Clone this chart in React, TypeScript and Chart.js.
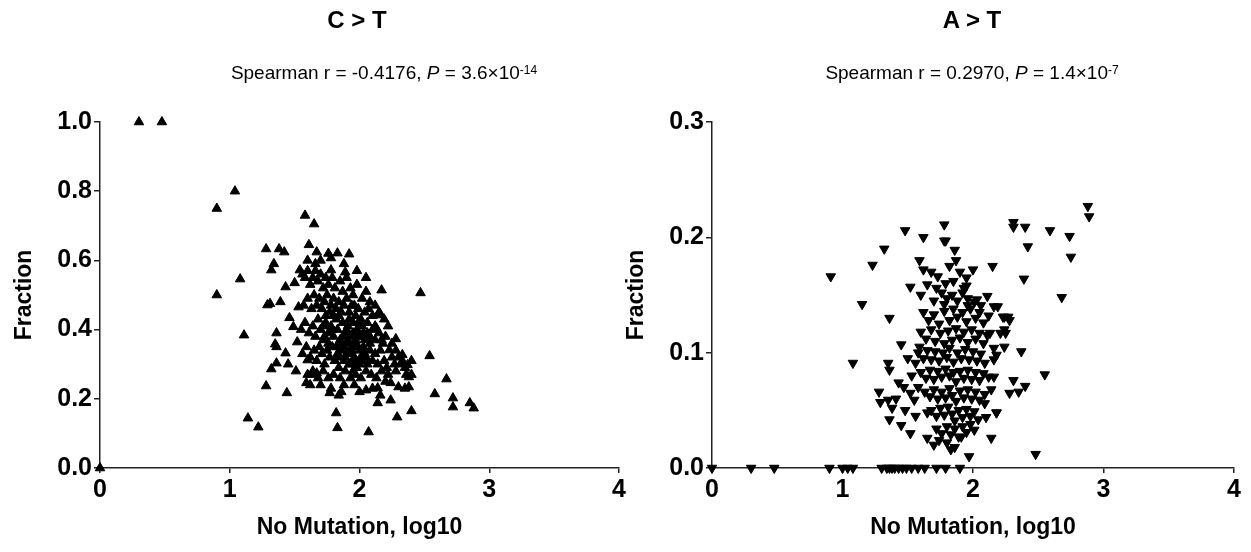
import React, { useEffect, useRef } from "react";
import { Chart, registerables } from "chart.js";
Chart.register(...registerables);

// ---- C > T panel ----
const ctX = [
  0, 0.30, 0.477, 0.90, 1.04, 0.90, 1.08, 1.11, 1.14, 1.22,
  1.58, 1.65, 1.28, 1.38, 1.42, 1.61, 1.67, 1.34, 1.32, 1.54,
  1.50, 1.43, 1.29, 1.31, 1.39, 1.53, 1.46, 1.49, 1.36, 1.35,
  1.36, 1.43, 1.52, 1.36, 1.32, 1.45, 1.51, 1.60, 1.59, 1.28,
  1.44, 1.63, 1.67, 1.83, 1.92, 1.78, 1.89, 1.78, 2.17, 2.47,
  2.14, 2.16, 2.28, 2.54, 2.67, 2.58, 2.72, 2.72, 2.85, 2.88,
  2.40, 2.29, 2.07, 1.83, 1.82, 2.14, 2.24, 2.38, 2.38, 2.37,
  2.33, 2.30, 2.24, 2.14, 2.05, 1.96, 1.86, 1.77, 2.23, 2.17,
  2.13,
  1.56, 1.58, 1.60, 1.62, 1.64, 1.66, 1.68, 1.70, 1.72, 1.74, 1.76, 1.79, 1.81, 1.85, 1.87, 1.90, 1.93, 1.95, 1.98, 2.02, 2.05, 2.08,
  1.57, 1.60, 1.63, 1.65, 1.67, 1.69, 1.71, 1.73, 1.75, 1.77, 1.78, 1.80, 1.82, 1.84, 1.86, 1.88, 1.90, 1.92, 1.94, 1.97, 1.99, 2.01, 2.04, 2.06, 2.10, 2.12,
  1.55, 1.58, 1.61, 1.64, 1.66, 1.68, 1.70, 1.72, 1.74, 1.76, 1.78, 1.80, 1.82, 1.83, 1.85, 1.87, 1.89, 1.91, 1.93, 1.95, 1.96, 1.98, 2.00, 2.02, 2.04, 2.06, 2.08, 2.10, 2.12, 2.15, 2.18, 2.20,
  1.56, 1.59, 1.62, 1.65, 1.67, 1.69, 1.71, 1.73, 1.75, 1.77, 1.79, 1.81, 1.83, 1.84, 1.86, 1.88, 1.90, 1.92, 1.94, 1.96, 1.98, 2.00, 2.02, 2.04, 2.06, 2.08, 2.10, 2.12, 2.14, 2.16, 2.19, 2.21, 2.25, 2.27,
  1.60, 1.64, 1.68, 1.72, 1.76, 1.80, 1.85, 1.89, 1.93, 1.97, 2.01, 2.05, 2.09, 2.13, 2.17, 2.22, 2.28, 2.32, 2.35,
  1.62, 1.70, 1.78, 1.88, 2.00, 2.10, 2.20, 1.84, 2.16,
  1.86, 1.88, 1.91, 1.94, 1.97, 1.99, 2.03, 1.80, 1.84, 1.92, 1.96, 1.74, 2.07, 2.00, 1.95, 1.90, 1.82, 1.76, 1.72, 1.99,
  1.60, 1.70, 1.76, 1.66, 1.98, 2.05, 1.88, 2.12, 2.15, 2.19, 2.22, 2.25, 2.28, 2.30, 2.33, 2.36, 2.40, 2.35, 2.40,
  1.89, 1.93, 1.97, 2.01, 2.05, 1.87, 1.91, 1.95, 1.99, 2.03, 1.85, 1.94, 2.08, 1.79, 1.73,
];
const ctY = [
  0, 1.0, 1.0, 0.75, 0.80, 0.50, 0.546, 0.384, 0.144, 0.118,
  0.73, 0.705, 0.633, 0.633, 0.624, 0.645, 0.624, 0.59, 0.572, 0.572,
  0.535, 0.523, 0.471, 0.475, 0.48, 0.465, 0.434, 0.408, 0.39, 0.358,
  0.35, 0.332, 0.364, 0.303, 0.286, 0.30, 0.28, 0.312, 0.246, 0.237,
  0.217, 0.27, 0.274, 0.621, 0.618, 0.607, 0.566, 0.572, 0.514, 0.506,
  0.442, 0.445, 0.373, 0.324, 0.257, 0.214, 0.202, 0.176, 0.188, 0.173,
  0.165, 0.147, 0.104, 0.116, 0.159, 0.188, 0.196, 0.234, 0.263, 0.298,
  0.327, 0.234, 0.246, 0.231, 0.225, 0.24, 0.22, 0.217, 0.341, 0.37,
  0.404,
  0.56, 0.55, 0.57, 0.53, 0.55, 0.57, 0.54, 0.56, 0.52, 0.55, 0.53, 0.55, 0.52, 0.54, 0.51, 0.55, 0.52, 0.50, 0.53, 0.49, 0.51, 0.48,
  0.47, 0.49, 0.46, 0.50, 0.47, 0.49, 0.46, 0.48, 0.50, 0.45, 0.47, 0.49, 0.46, 0.48, 0.45, 0.47, 0.49, 0.45, 0.47, 0.44, 0.46, 0.43, 0.45, 0.42, 0.44, 0.41,
  0.40, 0.42, 0.39, 0.41, 0.38, 0.43, 0.40, 0.37, 0.42, 0.39, 0.41, 0.38, 0.43, 0.40, 0.37, 0.42, 0.39, 0.41, 0.38, 0.42, 0.36, 0.40, 0.38, 0.41, 0.37, 0.39, 0.36, 0.40, 0.37, 0.39, 0.36, 0.38,
  0.33, 0.35, 0.32, 0.34, 0.31, 0.35, 0.33, 0.30, 0.34, 0.32, 0.35, 0.31, 0.33, 0.29, 0.34, 0.31, 0.33, 0.30, 0.35, 0.32, 0.29, 0.34, 0.31, 0.33, 0.30, 0.34, 0.31, 0.33, 0.30, 0.34, 0.31, 0.29, 0.32, 0.30,
  0.27, 0.28, 0.26, 0.28, 0.26, 0.27, 0.26, 0.28, 0.26, 0.27, 0.26, 0.28, 0.27, 0.26, 0.28, 0.27, 0.28, 0.30, 0.29,
  0.24, 0.24, 0.23, 0.24, 0.22, 0.23, 0.25, 0.21, 0.21,
  0.36, 0.35, 0.36, 0.34, 0.37, 0.35, 0.35, 0.44, 0.44, 0.43, 0.47, 0.44, 0.46, 0.30, 0.28, 0.40, 0.35, 0.36, 0.41, 0.42,
  0.60, 0.60, 0.62, 0.59, 0.57, 0.55, 0.59, 0.47, 0.45, 0.43, 0.41, 0.36, 0.34, 0.32, 0.31, 0.27, 0.27, 0.23, 0.31,
  0.32, 0.33, 0.31, 0.32, 0.32, 0.38, 0.37, 0.39, 0.38, 0.39, 0.32, 0.30, 0.38, 0.40, 0.38,
];

// ---- A > T panel ----
const atX = [
  0, 0.30, 0.477, 0.90, 1.0, 1.04, 1.08, 1.30, 1.34, 1.36, 1.38, 1.40, 1.43, 1.46, 1.49, 1.53, 1.58, 1.63, 1.72, 1.79, 1.90,
  0.91, 1.23, 1.32, 1.48, 1.62, 1.78, 1.78, 1.15, 1.36, 1.59, 1.62, 1.68, 1.73, 1.65, 1.52, 1.60, 1.72, 1.79, 1.78,
  1.08, 1.35, 1.36, 1.45, 1.59, 1.28, 1.29, 1.35, 1.38, 1.43, 1.36, 1.45, 1.52, 1.65, 1.70, 1.56, 1.55, 1.65,
  2.88, 2.89, 2.31, 2.31, 2.40, 2.59, 2.74, 2.42, 2.75, 2.39, 2.68, 2.15, 2.00, 1.79, 1.86, 1.87,
  2.37, 2.55, 2.31, 2.40, 2.28, 2.35, 2.18, 2.14, 2.48, 1.97, 2.24, 2.28, 2.24, 2.24, 2.18, 2.11, 2.19,
  1.95, 1.93, 1.96, 2.01, 2.06, 2.16, 2.23, 2.27, 2.25, 2.21, 2.16, 2.13, 2.16, 2.16, 2.14, 2.09, 2.18, 2.10, 2.01, 1.91, 1.83,
  1.62, 1.66, 1.70, 1.74, 1.78, 1.82, 1.85, 1.88, 1.92, 1.95, 1.98, 2.02, 2.05, 2.08, 2.12,
  1.60, 1.64, 1.68, 1.71, 1.75, 1.78, 1.81, 1.84, 1.87, 1.90, 1.93, 1.96, 1.99, 2.02, 2.05, 2.08, 2.11,
  1.58, 1.62, 1.65, 1.68, 1.71, 1.74, 1.77, 1.80, 1.82, 1.85, 1.88, 1.91, 1.94, 1.97, 2.00, 2.03, 2.06, 2.09,
  1.60, 1.64, 1.67, 1.70, 1.73, 1.76, 1.79, 1.82, 1.85, 1.87, 1.90, 1.93, 1.96, 1.99, 2.02, 2.05, 2.08, 2.12,
  1.63, 1.67, 1.70, 1.73, 1.76, 1.79, 1.82, 1.84, 1.87, 1.90, 1.93, 1.96, 1.99, 2.02, 2.05, 2.09,
  1.68, 1.72, 1.75, 1.78, 1.81, 1.84, 1.86, 1.89, 1.92, 1.95, 1.98, 2.01, 2.04,
  1.72, 1.76, 1.80, 1.83, 1.86, 1.89, 1.92, 1.95, 1.98, 1.80, 1.86, 1.74,
  1.84, 1.88, 1.92, 1.96, 1.80, 1.76, 1.70, 2.03, 1.85, 1.90, 1.82, 1.95,
  1.50, 1.53, 1.47, 1.58, 1.52, 1.48, 1.56, 1.41,
];
const atY = [
  0, 0, 0, 0, 0, 0, 0, 0, 0, 0, 0, 0, 0, 0, 0, 0, 0, 0, 0, 0, 0,
  0.166, 0.176, 0.19, 0.206, 0.20, 0.211, 0.197, 0.142, 0.13, 0.18, 0.172, 0.17, 0.166, 0.159, 0.157, 0.15, 0.156, 0.16, 0.142,
  0.091, 0.091, 0.085, 0.107, 0.105, 0.066, 0.057, 0.059, 0.052, 0.074, 0.042, 0.037, 0.03, 0.026, 0.02, 0.091, 0.059, 0.048,
  0.227, 0.218, 0.213, 0.209, 0.209, 0.206, 0.201, 0.192, 0.183, 0.164, 0.148, 0.175, 0.172, 0.197, 0.189, 0.18,
  0.101, 0.081, 0.076, 0.071, 0.065, 0.066, 0.048, 0.026, 0.012, 0.01, 0.131, 0.128, 0.12, 0.105, 0.098, 0.149, 0.14,
  0.165, 0.156, 0.147, 0.144, 0.141, 0.14, 0.131, 0.131, 0.117, 0.117, 0.104, 0.117, 0.094, 0.079, 0.068, 0.056, 0.048, 0.044, 0.033, 0.027, 0.016,
  0.135, 0.128, 0.133, 0.125, 0.136, 0.128, 0.138, 0.131, 0.135, 0.127, 0.138, 0.130, 0.135, 0.126, 0.132,
  0.118, 0.112, 0.120, 0.110, 0.117, 0.108, 0.119, 0.111, 0.121, 0.113, 0.118, 0.109, 0.120, 0.112, 0.117, 0.108, 0.115,
  0.100, 0.095, 0.102, 0.094, 0.101, 0.093, 0.100, 0.096, 0.104, 0.092, 0.100, 0.095, 0.103, 0.094, 0.101, 0.093, 0.099, 0.091,
  0.083, 0.078, 0.085, 0.077, 0.084, 0.079, 0.086, 0.080, 0.083, 0.075, 0.084, 0.078, 0.085, 0.077, 0.083, 0.076, 0.082, 0.079,
  0.066, 0.062, 0.068, 0.060, 0.066, 0.061, 0.069, 0.063, 0.058, 0.067, 0.061, 0.068, 0.060, 0.066, 0.059, 0.064,
  0.050, 0.045, 0.052, 0.046, 0.053, 0.047, 0.041, 0.050, 0.044, 0.051, 0.045, 0.049, 0.042,
  0.034, 0.030, 0.036, 0.029, 0.034, 0.027, 0.036, 0.031, 0.038, 0.022, 0.018, 0.024,
  0.150, 0.145, 0.152, 0.141, 0.147, 0.152, 0.145, 0.146, 0.162, 0.170, 0.175, 0.158,
  0.095, 0.080, 0.070, 0.070, 0.065, 0.050, 0.045, 0.060,
];

const xTicks = [0, 1, 2, 3, 4];
const ctYTicks = [0, 0.2, 0.4, 0.6, 0.8, 1.0];
const atYTicks = [0, 0.1, 0.2, 0.3];

const FONT = "'Liberation Sans', Arial, sans-serif";

function makeChart(
  canvas: HTMLCanvasElement,
  xs: number[],
  ys: number[],
  yTicks: number[],
  rotation: number,
  rightPad: number
) {
  const tickFont = { family: FONT, size: 25, weight: "bold" as const };
  const titleFont = { family: FONT, size: 23, weight: "bold" as const };
  return new Chart(canvas, {
    type: "scatter",
    data: {
      datasets: [
        {
          data: xs.map((x, i) => ({ x, y: ys[i] })),
          pointStyle: "triangle",
          rotation,
          pointRadius: 5.5,
          pointHoverRadius: 5.5,
          backgroundColor: "#000",
          borderColor: "#000",
          borderWidth: 1,
          clip: false as any,
        },
      ],
    },
    options: {
      animation: false,
      responsive: false,
      maintainAspectRatio: false,
      events: [],
      layout: { padding: { top: 122, right: rightPad, bottom: 0, left: 0 } },
      plugins: {
        legend: { display: false },
        tooltip: { enabled: false },
        title: { display: false },
      },
      scales: {
        x: {
          type: "linear",
          min: xTicks[0],
          max: xTicks[xTicks.length - 1],
          afterBuildTicks: (s: any) => {
            s.ticks = xTicks.map((v) => ({ value: v }));
          },
          afterFit: (s: any) => {
            s.height = 84;
          },
          grid: {
            display: true,
            drawOnChartArea: false,
            drawTicks: true,
            tickLength: 5,
            color: "#222",
            lineWidth: 1.5,
          },
          border: { display: true, color: "#222", width: 1.5 },
          ticks: {
            color: "#000",
            font: tickFont,
            padding: 2,
            maxRotation: 0,
            autoSkip: false,
            callback: (v: any) => String(v),
          },
          title: {
            display: true,
            text: "No Mutation, log10",
            color: "#000",
            font: titleFont,
            padding: { top: 0, bottom: 11 },
          },
        },
        y: {
          type: "linear",
          min: yTicks[0],
          max: yTicks[yTicks.length - 1],
          afterBuildTicks: (s: any) => {
            s.ticks = yTicks.map((v) => ({ value: v }));
          },
          afterFit: (s: any) => {
            s.width = 100;
          },
          grid: {
            display: true,
            drawOnChartArea: false,
            drawTicks: true,
            tickLength: 6,
            color: "#222",
            lineWidth: 1.5,
          },
          border: { display: true, color: "#222", width: 1.5 },
          ticks: {
            color: "#000",
            font: tickFont,
            padding: 2,
            autoSkip: false,
            callback: (v: any) => Number(v).toFixed(1),
          },
          title: {
            display: true,
            text: "Fraction",
            color: "#000",
            font: titleFont,
            padding: { top: 11, bottom: 0 },
          },
        },
      },
    },
  } as any);
}

const titleStyle: React.CSSProperties = {
  position: "absolute",
  top: 6,
  transform: "translateX(-50%)",
  fontFamily: FONT,
  fontWeight: "bold",
  fontSize: 24,
  whiteSpace: "nowrap",
  color: "#000",
  lineHeight: "28px",
};
const subStyle: React.CSSProperties = {
  position: "absolute",
  top: 61,
  transform: "translateX(-50%)",
  fontFamily: FONT,
  fontSize: 19,
  whiteSpace: "nowrap",
  color: "#000",
  lineHeight: "24px",
};
const supStyle: React.CSSProperties = {
  fontSize: 12,
  verticalAlign: "top",
  position: "relative",
  top: -3,
};

export default function App() {
  const leftRef = useRef<HTMLCanvasElement>(null);
  const rightRef = useRef<HTMLCanvasElement>(null);

  useEffect(() => {
    const c1 = makeChart(leftRef.current!, ctX, ctY, ctYTicks, 0, 8);
    const c2 = makeChart(rightRef.current!, atX, atY, atYTicks, 180, 17);
    return () => {
      c1.destroy();
      c2.destroy();
    };
  }, []);

  return (
    <div
      style={{
        position: "fixed",
        left: 0,
        top: 0,
        width: 1251,
        height: 552,
        background: "#fff",
        overflow: "hidden",
      }}
    >
      <canvas
        ref={leftRef}
        width={628}
        height={552}
        style={{ position: "absolute", left: 0, top: 0, width: 628, height: 552 }}
      />
      <canvas
        ref={rightRef}
        width={639}
        height={552}
        style={{ position: "absolute", left: 612, top: 0, width: 639, height: 552 }}
      />
      <div style={{ ...titleStyle, left: 357 }}>C &gt; T</div>
      <div style={{ ...subStyle, left: 384 }}>
        Spearman r = -0.4176, <i>P</i> = 3.6×10<span style={supStyle}>-14</span>
      </div>
      <div style={{ ...titleStyle, left: 972 }}>A &gt; T</div>
      <div style={{ ...subStyle, left: 972 }}>
        Spearman r = 0.2970, <i>P</i> = 1.4×10<span style={supStyle}>-7</span>
      </div>
    </div>
  );
}
